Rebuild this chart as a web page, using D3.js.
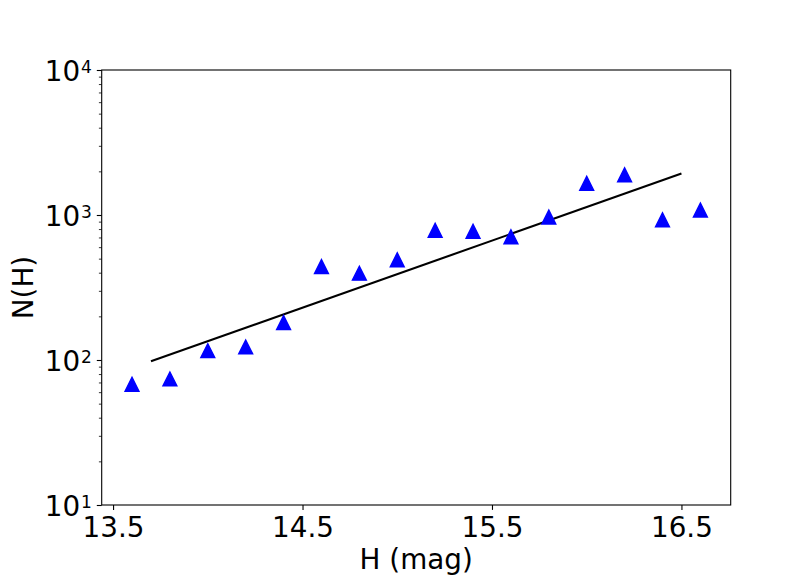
<!DOCTYPE html>
<html>
<head>
<meta charset="utf-8">
<script src="https://cdn.jsdelivr.net/npm/d3@7"></script>
<style>
  body { margin: 0; background: #fff; }
  text { font-family: "DejaVu Sans", sans-serif; fill: #000; }
</style>
</head>
<body>
<div id="chart"></div>
<script>
// magnitude bins and counts
const magBins = [13.6, 13.8, 14.0, 14.2, 14.4, 14.6, 14.8, 15.0, 15.2, 15.4, 15.6, 15.8, 16.0, 16.2, 16.4, 16.6];
const counts = [68, 74, 116, 123, 181, 441, 397, 491, 784, 771, 708, 967, 1653, 1892, 926, 1082];

// fitted power law (straight on log axis)
const fitMag = [13.7, 16.5];
const fitCount = [98, 1930];

const xTickValues = [13.5, 14.5, 15.5, 16.5];
const yTickValues = [10, 100, 1000, 10000];

const width = 811;
const height = 581;
const margin = {left: 101.7, right: 811 - 730.7, top: 70, bottom: 581 - 505};

const x = d3.scaleLinear()
  .domain([13.44, 16.76])
  .range([margin.left, width - margin.right]);

const y = d3.scaleLog()
  .domain([10, 10000])
  .range([height - margin.bottom, margin.top]);

const svg = d3.select('#chart').append('svg')
  .attr('width', width)
  .attr('height', height)
  .attr('viewBox', [0, 0, width, height]);

// minor ticks on log axis
const minor = y.ticks().filter(v => !yTickValues.includes(v));
svg.append('g')
  .attr('transform', `translate(${margin.left},0)`)
  .call(d3.axisLeft(y).tickValues(minor).tickSize(2.8).tickFormat(''))
  .call(g => g.select('.domain').remove())
  .call(g => g.selectAll('line').attr('stroke-width', 0.8));

const yAxis = svg.append('g')
  .attr('transform', `translate(${margin.left},0)`)
  .call(d3.axisLeft(y).tickValues(yTickValues).tickSize(4.9).tickPadding(4.9).tickFormat(''))
  .call(g => g.select('.domain').remove())
  .call(g => g.selectAll('line').attr('stroke-width', 1.1));

yAxis.selectAll('.tick')
  .append('text')
  .attr('x', -9.8)
  .attr('y', 10.5)
  .attr('text-anchor', 'end')
  .style('font-size', '27.8px')
  .each(function(d) {
    const t = d3.select(this);
    t.append('tspan').text('10');
    t.append('tspan')
      .attr('dy', -8)
      .attr('dx', 1)
      .style('font-size', '17px')
      .text(Math.round(Math.log10(d)));
  });

svg.append('g')
  .attr('transform', `translate(0,${height - margin.bottom})`)
  .call(d3.axisBottom(x).tickValues(xTickValues).tickSize(4.9).tickPadding(4.9).tickFormat(d3.format('.1f')))
  .call(g => g.select('.domain').remove())
  .call(g => g.selectAll('line').attr('stroke-width', 1.1))
  .call(g => g.selectAll('text')
    .attr('dy', null)
    .attr('y', 31.7)
    .style('font-size', '27.8px')
    .style('font-family', '"DejaVu Sans", sans-serif'));

// frame
svg.append('rect')
  .attr('x', margin.left)
  .attr('y', margin.top)
  .attr('width', width - margin.left - margin.right)
  .attr('height', height - margin.top - margin.bottom)
  .attr('fill', 'none')
  .attr('stroke', '#000')
  .attr('stroke-width', 1.1);

// fit line
svg.append('path')
  .datum(fitMag.map((m, i) => [m, fitCount[i]]))
  .attr('fill', 'none')
  .attr('stroke', '#000')
  .attr('stroke-width', 2.1)
  .attr('d', d3.line().x(d => x(d[0])).y(d => y(d[1])));

// triangles
const s = 6.95;
svg.append('g')
  .selectAll()
  .data(magBins.map((m, i) => [m, counts[i]]))
  .join('path')
    .attr('transform', d => `translate(${x(d[0])},${y(d[1])})`)
    .attr('d', `M0,${-s}L${s},${s}L${-s},${s}Z`)
    .attr('fill', '#0000ff')
    .attr('stroke', '#0000ff')
    .attr('stroke-width', 1.4)
    .attr('stroke-linejoin', 'miter');

svg.append('text')
  .attr('x', (margin.left + width - margin.right) / 2)
  .attr('y', 569)
  .attr('text-anchor', 'middle')
  .style('font-size', '27.8px')
  .text('H (mag)');

svg.append('text')
  .attr('transform', `translate(33,${(margin.top + height - margin.bottom) / 2}) rotate(-90)`)
  .attr('text-anchor', 'middle')
  .style('font-size', '27.8px')
  .text('N(H)');
</script>
</body>
</html>
